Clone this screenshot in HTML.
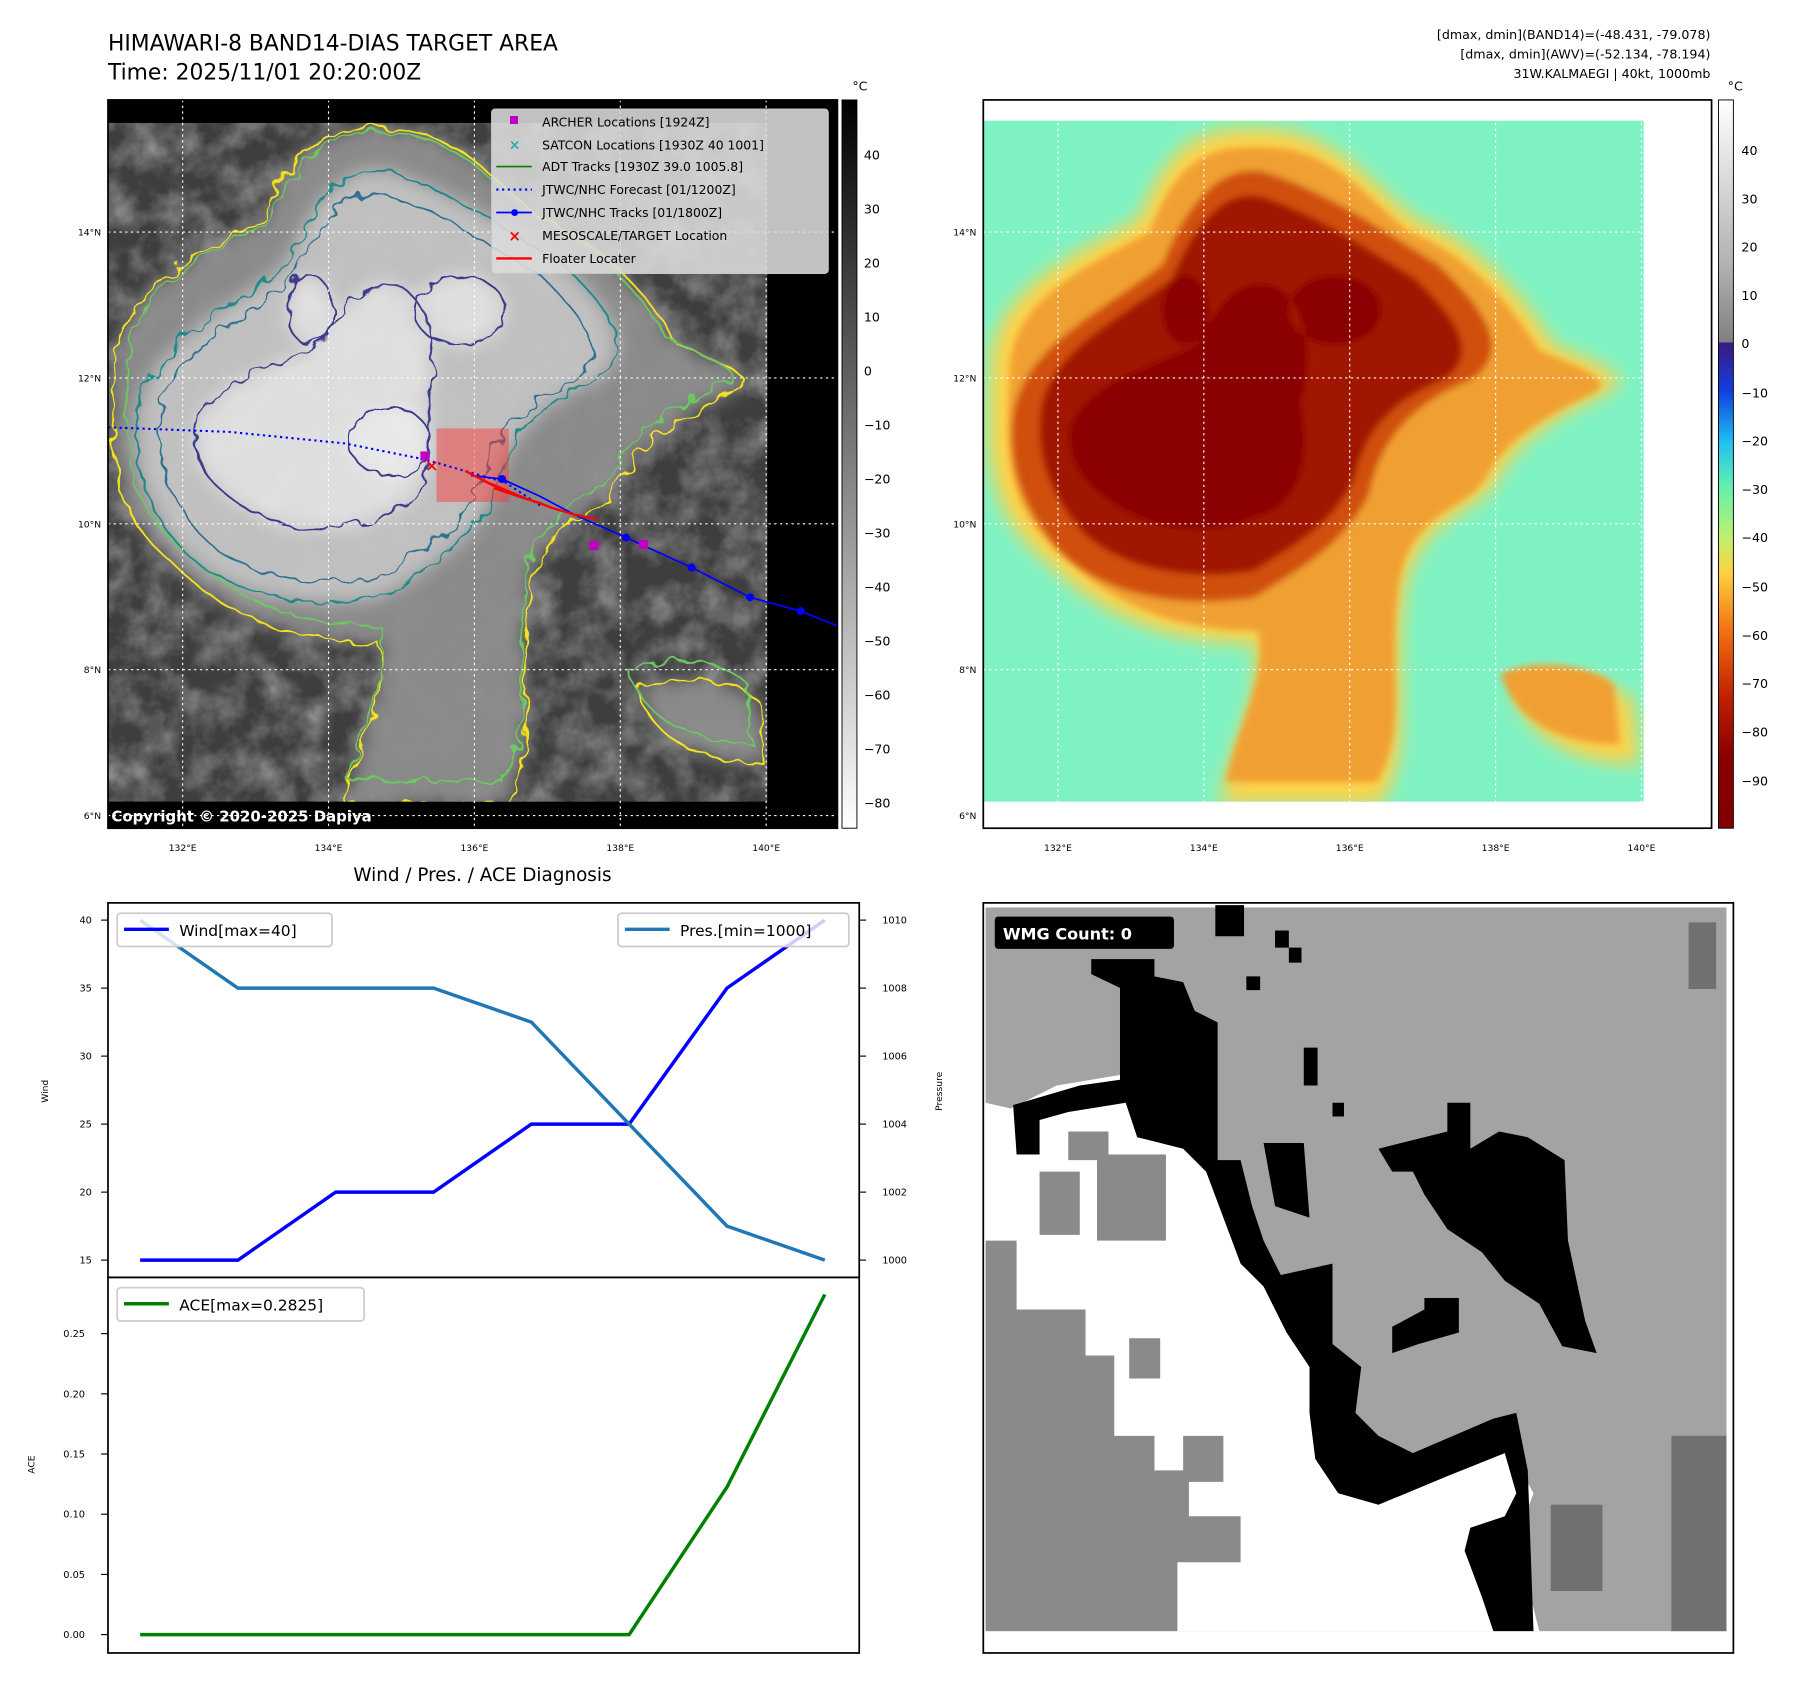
<!DOCTYPE html>
<html><head><meta charset="utf-8"><style>
html,body{margin:0;padding:0;background:#fff;}
svg{display:block;font-family:"DejaVu Sans","Liberation Sans",sans-serif;}
</style></head><body>
<svg id="fig" xmlns="http://www.w3.org/2000/svg" width="1801" height="1690" viewBox="0 0 1801 1690">
<defs>
<filter id="wig" x="-5%" y="-5%" width="110%" height="110%"><feTurbulence type="fractalNoise" baseFrequency="0.06" numOctaves="2" seed="3"/><feDisplacementMap in="SourceGraphic" scale="14"/></filter>
<filter id="blur3"><feGaussianBlur stdDeviation="3"/></filter>
<filter id="blur8"><feGaussianBlur stdDeviation="8"/></filter>
<filter id="noise" x="0" y="0" width="100%" height="100%"><feTurbulence type="fractalNoise" baseFrequency="0.035" numOctaves="4" seed="7"/><feColorMatrix type="matrix" values="0 0 0 0 1  0 0 0 0 1  0 0 0 0 1  0 0 0 1.6 -0.55"/></filter>
<linearGradient id="cb1" x1="0" y1="0" x2="0" y2="1"><stop offset="0" stop-color="#000"/><stop offset="1" stop-color="#fff"/></linearGradient>
<linearGradient id="cb2" x1="0" y1="0" x2="0" y2="1">
<stop offset="0" stop-color="#ffffff"/><stop offset="0.23" stop-color="#b0b0b0"/><stop offset="0.332" stop-color="#808080"/>
<stop offset="0.334" stop-color="#3a1a80"/><stop offset="0.4" stop-color="#1040e0"/><stop offset="0.47" stop-color="#20c0f0"/>
<stop offset="0.53" stop-color="#60f0b0"/><stop offset="0.6" stop-color="#c0f070"/><stop offset="0.65" stop-color="#ffd040"/>
<stop offset="0.73" stop-color="#f07010"/><stop offset="0.82" stop-color="#c02000"/><stop offset="0.9" stop-color="#8b0000"/><stop offset="1" stop-color="#800000"/></linearGradient>
<clipPath id="c1"><rect x="94" y="107" width="574" height="591"/></clipPath>
<clipPath id="c2"><rect x="856" y="105" width="575" height="593"/></clipPath>
<path id="L1" d="M100,330 C95,250 180,220 230,190 C250,140 270,110 330,112 C400,110 430,160 470,190 C520,210 560,250 590,300 C640,320 660,330 640,340 C600,360 560,380 540,420 C520,450 470,450 460,520 C450,600 470,650 440,700 L300,700 C310,650 340,600 330,560 C260,560 200,540 150,490 C100,450 95,400 100,330 Z M555,600 C580,585 640,590 660,610 L665,665 C620,665 570,650 555,600 Z"/>
<path id="L2" d="M120,360 C130,300 200,270 250,230 C270,180 300,140 340,150 C400,170 440,200 490,230 C520,260 560,300 520,330 C470,350 440,380 430,430 C410,470 380,490 330,520 C270,530 200,520 160,480 C125,440 115,400 120,360 Z"/>
<path id="L3" d="M170,370 C190,330 240,320 280,300 C300,260 320,240 350,250 C380,270 380,320 370,350 C380,400 370,440 330,450 C290,470 240,460 210,440 C180,420 165,400 170,370 Z M360,270 a40,30 0 1,0 80,0 a40,30 0 1,0 -80,0 Z M250,270 a20,30 0 1,0 40,0 a20,30 0 1,0 -40,0 Z"/>
<path id="L4" d="M305,385 a35,30 0 1,0 70,0 a35,30 0 1,0 -70,0 Z"/>
</defs>
<g transform="scale(1.1487)">
<text x="94" y="44" font-size="19">HIMAWARI-8 BAND14-DIAS TARGET AREA</text>
<text x="94" y="69" font-size="19">Time: 2025/11/01 20:20:00Z</text>
<g font-size="11" text-anchor="end">
<text x="1489" y="34">[dmax, dmin](BAND14)=(-48.431, -79.078)</text>
<text x="1489" y="51">[dmax, dmin](AWV)=(-52.134, -78.194)</text>
<text x="1489" y="68">31W.KALMAEGI | 40kt, 1000mb</text>
</g>

<!-- MAP 1 -->
<g>
<rect x="94" y="87" width="635" height="634" fill="#000"/>
<g clip-path="url(#c1)">
<rect x="94" y="107" width="574" height="591" fill="#3e3e3e"/>
<rect x="94" y="107" width="574" height="591" filter="url(#noise)" opacity="0.45"/>
<g filter="url(#blur8)" opacity="0.95">
<use href="#L1" fill="#8e8e8e"/><use href="#L2" fill="#c6c6c6"/><use href="#L3" fill="#e6e6e6"/><use href="#L4" fill="#f2f2f2"/>
</g>
<g filter="url(#wig)" fill="none" stroke-width="1.6">
<use href="#L1" stroke="#f5e31a"/>
<use href="#L1" stroke="#6cc860" transform="translate(381,200) scale(0.96) translate(-381,-200)"/>
<use href="#L2" stroke="#1f8a8a"/>
<use href="#L2" stroke="#2e6e8e" transform="translate(320,350) scale(0.9) translate(-320,-350)"/>
<use href="#L3" stroke="#3b3a8c"/>
<use href="#L4" stroke="#3b3a8c"/>
</g>
</g>
<rect x="94" y="698" width="272" height="23" fill="#000"/>
<text x="97" y="715" font-size="13" font-weight="bold" fill="#fff">Copyright © 2020-2025 Dapiya</text>
<g stroke="#fff" stroke-dasharray="2,3" stroke-width="1">
<line x1="159" y1="87" x2="159" y2="721"/><line x1="286" y1="87" x2="286" y2="721"/><line x1="413" y1="87" x2="413" y2="721"/><line x1="540" y1="87" x2="540" y2="721"/><line x1="667" y1="87" x2="667" y2="721"/>
<line x1="94" y1="202" x2="729" y2="202"/><line x1="94" y1="329" x2="729" y2="329"/><line x1="94" y1="456" x2="729" y2="456"/><line x1="94" y1="583" x2="729" y2="583"/><line x1="94" y1="710" x2="729" y2="710"/>
</g>
<rect x="380" y="373" width="63" height="64" fill="#ff3030" opacity="0.45"/>
<polyline points="94,372 200,376 300,386 370,400 440,420 470,440" fill="none" stroke="#0000ff" stroke-width="1.8" stroke-dasharray="2,3"/>
<polyline points="410,414 437,417 470,432 500,448 545,468 602,494 653,520 697,532 729,545" fill="none" stroke="#0000ff" stroke-width="1.5"/>
<g fill="#0000ff"><circle cx="437" cy="417" r="3.5"/><circle cx="545" cy="468" r="3.5"/><circle cx="602" cy="494" r="3.5"/><circle cx="653" cy="520" r="3.5"/><circle cx="697" cy="532" r="3.5"/></g>
<polyline points="405,410 440,428 420,418 460,435 430,425 470,438 480,442 500,448 520,452" fill="none" stroke="#ff0000" stroke-width="2"/>
<g fill="#c000c0"><rect x="366" y="393" width="8" height="8"/><rect x="513" y="471" width="8" height="8"/><rect x="556" y="470" width="8" height="8"/></g>
<text x="376" y="410" font-size="14" fill="#ff0000" text-anchor="middle" font-weight="bold">×</text>
<rect x="94" y="87" width="635" height="634" fill="none" stroke="#000" stroke-width="1.5"/>
<g>
<rect x="428" y="95" width="293" height="143" rx="3" fill="#dcdcdc" fill-opacity="0.88" stroke="#c8c8c8"/>
<g font-size="10.8">
<rect x="444" y="101" width="7" height="7" fill="#c000c0"/><text x="472" y="110">ARCHER Locations [1924Z]</text>
<text x="448" y="130" fill="#20b0b0" font-size="12" font-weight="bold" text-anchor="middle">×</text><text x="472" y="130">SATCON Locations [1930Z 40 1001]</text>
<line x1="432" y1="145" x2="463" y2="145" stroke="#008000" stroke-width="1.5"/><text x="472" y="149">ADT Tracks [1930Z 39.0 1005.8]</text>
<line x1="432" y1="165" x2="463" y2="165" stroke="#0000ff" stroke-width="1.8" stroke-dasharray="2,3"/><text x="472" y="169">JTWC/NHC Forecast [01/1200Z]</text>
<line x1="432" y1="185" x2="463" y2="185" stroke="#0000ff" stroke-width="1.5"/><circle cx="448" cy="185" r="3" fill="#0000ff"/><text x="472" y="189">JTWC/NHC Tracks [01/1800Z]</text>
<text x="448" y="210" fill="#ff0000" font-size="13" font-weight="bold" text-anchor="middle">×</text><text x="472" y="209">MESOSCALE/TARGET Location</text>
<line x1="432" y1="225" x2="463" y2="225" stroke="#ff0000" stroke-width="2"/><text x="472" y="229">Floater Locater</text>
</g></g>
<g font-size="8">
<text x="159" y="741" text-anchor="middle">132°E</text><text x="286" y="741" text-anchor="middle">134°E</text><text x="413" y="741" text-anchor="middle">136°E</text><text x="540" y="741" text-anchor="middle">138°E</text><text x="667" y="741" text-anchor="middle">140°E</text>
<text x="88" y="205" text-anchor="end">14°N</text><text x="88" y="332" text-anchor="end">12°N</text><text x="88" y="459" text-anchor="end">10°N</text><text x="88" y="586" text-anchor="end">8°N</text><text x="88" y="713" text-anchor="end">6°N</text>
</g>
</g>
<g>
<rect x="733" y="87" width="13" height="634" fill="url(#cb1)" stroke="#000" stroke-width="0.8"/>
<text x="742" y="79" font-size="11">°C</text>
<g font-size="11"><text x="752" y="139">40</text><text x="752" y="186">30</text><text x="752" y="233">20</text><text x="752" y="280">10</text><text x="752" y="327">0</text><text x="752" y="374">−10</text><text x="752" y="421">−20</text><text x="752" y="468">−30</text><text x="752" y="515">−40</text><text x="752" y="562">−50</text><text x="752" y="609">−60</text><text x="752" y="656">−70</text><text x="752" y="703">−80</text></g>
</g>

<!-- MAP 2 -->
<g>
<rect x="856" y="87" width="634" height="634" fill="#fff"/>
<g clip-path="url(#c2)">
<rect x="856" y="105" width="575" height="593" fill="#7ff2c4"/>
<g transform="translate(762,0)">
<g filter="url(#blur8)"><use href="#L1" fill="#ffd24a"/></g>
<g filter="url(#blur3)"><use href="#L1" fill="#f0a030" transform="translate(381,380) scale(0.94) translate(-381,-380)"/><use href="#L2" fill="#d05010"/><use href="#L2" fill="#a01800" transform="translate(320,330) scale(0.88) translate(-320,-330)"/><use href="#L3" fill="#8b0000"/></g>
</g>
</g>
<g stroke="#fff" stroke-dasharray="2,3" stroke-width="1">
<line x1="921" y1="87" x2="921" y2="721"/><line x1="1048" y1="87" x2="1048" y2="721"/><line x1="1175" y1="87" x2="1175" y2="721"/><line x1="1302" y1="87" x2="1302" y2="721"/><line x1="1429" y1="87" x2="1429" y2="721"/>
<line x1="856" y1="202" x2="1490" y2="202"/><line x1="856" y1="329" x2="1490" y2="329"/><line x1="856" y1="456" x2="1490" y2="456"/><line x1="856" y1="583" x2="1490" y2="583"/><line x1="856" y1="710" x2="1490" y2="710"/>
</g>
<rect x="856" y="87" width="634" height="634" fill="none" stroke="#000" stroke-width="1.5"/>
<g font-size="8">
<text x="921" y="741" text-anchor="middle">132°E</text><text x="1048" y="741" text-anchor="middle">134°E</text><text x="1175" y="741" text-anchor="middle">136°E</text><text x="1302" y="741" text-anchor="middle">138°E</text><text x="1429" y="741" text-anchor="middle">140°E</text>
<text x="850" y="205" text-anchor="end">14°N</text><text x="850" y="332" text-anchor="end">12°N</text><text x="850" y="459" text-anchor="end">10°N</text><text x="850" y="586" text-anchor="end">8°N</text><text x="850" y="713" text-anchor="end">6°N</text>
</g>
</g>
<g>
<rect x="1496" y="87" width="13" height="634" fill="url(#cb2)" stroke="#000" stroke-width="0.8"/>
<text x="1504" y="79" font-size="11">°C</text>
<g font-size="11"><text x="1516" y="135">40</text><text x="1516" y="177">30</text><text x="1516" y="219">20</text><text x="1516" y="261">10</text><text x="1516" y="303">0</text><text x="1516" y="346">−10</text><text x="1516" y="388">−20</text><text x="1516" y="430">−30</text><text x="1516" y="472">−40</text><text x="1516" y="515">−50</text><text x="1516" y="557">−60</text><text x="1516" y="599">−70</text><text x="1516" y="641">−80</text><text x="1516" y="684">−90</text></g>
</g>

<!-- WIND CHART -->
<text x="420" y="767" font-size="16" text-anchor="middle">Wind / Pres. / ACE Diagnosis</text>
<g id="chart"></g>

<!-- WMG -->
<g>
<rect x="858" y="790" width="635" height="630" fill="#a3a3a3"/>
<rect x="1493" y="790" width="10" height="630" fill="#a3a3a3"/>
<rect x="1470" y="803" width="24" height="58" fill="#707070"/>
<rect x="1455" y="1250" width="48" height="170" fill="#707070"/>
<path d="M858,1080 L858,960 L880,965 L920,945 L980,935 L1040,995 L1080,1060 L1110,1120 L1150,1165 L1170,1230 L1200,1275 L1250,1285 L1310,1255 L1335,1300 L1320,1340 L1340,1420 L858,1420 Z" fill="#fff"/>
<path d="M858,1080 L885,1080 L885,1140 L945,1140 L945,1180 L970,1180 L970,1250 L1005,1250 L1005,1280 L1035,1280 L1035,1320 L1080,1320 L1080,1360 L1025,1360 L1025,1420 L858,1420 Z" fill="#8a8a8a"/>
<path d="M955,1005 L1015,1005 L1015,1080 L955,1080 Z M905,1020 L940,1020 L940,1075 L905,1075 Z M930,985 L965,985 L965,1010 L930,1010 Z M983,1165 L1010,1165 L1010,1200 L983,1200 Z M1030,1250 L1065,1250 L1065,1290 L1030,1290 Z" fill="#8a8a8a"/>
<path d="M1350,1310 L1395,1310 L1395,1385 L1350,1385 Z" fill="#707070"/>
<path d="M950,835 L1005,835 L1005,850 L1030,855 L1040,880 L1060,890 L1060,1010 L1080,1010 L1090,1050 L1100,1080 L1115,1110 L1160,1100 L1160,1170 L1185,1190 L1180,1230 L1200,1250 L1230,1265 L1265,1250 L1300,1235 L1320,1230 L1330,1280 L1335,1420 L1300,1420 L1290,1390 L1275,1350 L1280,1330 L1310,1320 L1320,1300 L1310,1265 L1260,1285 L1200,1310 L1165,1300 L1145,1270 L1140,1230 L1140,1190 L1120,1160 L1100,1120 L1080,1100 L1065,1060 L1050,1020 L1030,1000 L990,990 L980,960 L930,968 L905,975 L905,1005 L885,1005 L882,962 L940,945 L975,940 L975,860 L950,848 Z" fill="#000"/>
<path d="M1200,1000 L1260,985 L1260,960 L1280,960 L1280,1000 L1305,985 L1330,990 L1362,1010 L1365,1080 L1380,1150 L1390,1178 L1360,1172 L1340,1135 L1310,1115 L1290,1090 L1260,1070 L1240,1040 L1230,1020 L1212,1020 Z M1100,995 L1135,995 L1140,1060 L1110,1050 Z M1212,1155 L1240,1140 L1240,1130 L1270,1130 L1270,1160 L1235,1170 L1212,1178 Z M1058,788 L1083,788 L1083,815 L1058,815 Z M1085,850 L1097,850 L1097,862 L1085,862 Z M1110,810 L1122,810 L1122,825 L1110,825 Z M1122,825 L1133,825 L1133,838 L1122,838 Z M1135,912 L1147,912 L1147,945 L1135,945 Z M1160,960 L1170,960 L1170,972 L1160,972 Z" fill="#000"/>
<rect x="856" y="786" width="653" height="653" fill="none" stroke="#000" stroke-width="1.5"/>
<rect x="866" y="798" width="156" height="28" rx="3" fill="#000"/>
<text x="873" y="818" font-size="14" font-weight="bold" fill="#fff">WMG Count: 0</text>
</g>
</g>
</svg>
<script>
const timeIndex = [0,1,2,3,4,5,6,7];
const windValues = [15,15,20,20,25,25,35,40];
const presValues = [1010,1008,1008,1008,1007,1004,1001,1000];
const aceValues = [0,0,0,0,0,0,0.1225,0.2825];
const windTicks = [15,20,25,30,35,40];
const presTicks = [1000,1002,1004,1006,1008,1010];
const aceTicks = ["0.00","0.05","0.10","0.15","0.20","0.25"];

const NS = "http://www.w3.org/2000/svg";
const g = document.getElementById('chart');
const X = i => 122 + i * (596 / 7);
const yW = v => 1097 - (v - 15) * (296 / 25);
const yP = p => 1097 - (p - 1000) * 29.6;
const yA = a => 1423 - a * 1048;
function mk(tag, attrs, text){ const e=document.createElementNS(NS,tag); for(const k in attrs) e.setAttribute(k,attrs[k]); if(text!==undefined) e.textContent=text; g.appendChild(e); return e; }

const ax1 = mk('rect',{x:94,y:786,width:654,height:326,fill:'none',stroke:'#000','stroke-width':1.5});


const ax2 = mk('rect',{x:94,y:1112,width:654,height:327,fill:'none',stroke:'#000','stroke-width':1.5});



windTicks.forEach(v=>{ const y=yW(v); mk('line',{x1:88,y1:y,x2:94,y2:y,stroke:'#000'});
 const t=mk('text',{x:80,y:y+3,'font-size':8.5,'text-anchor':'end'},String(v));
 
  });
presTicks.forEach(v=>{ const y=yP(v); mk('line',{x1:748,y1:y,x2:754,y2:y,stroke:'#000'});
 const t=mk('text',{x:768,y:y+3,'font-size':8.5},String(v));
 
  });
aceTicks.forEach(s=>{ const y=yA(parseFloat(s)); mk('line',{x1:88,y1:y,x2:94,y2:y,stroke:'#000'});
 const t=mk('text',{x:74,y:y+3,'font-size':8.5,'text-anchor':'end'},s);
 
  });

let a=mk('text',{x:0,y:0,'font-size':8,'text-anchor':'middle',transform:'translate(42,950) rotate(-90)'},'Wind');


a=mk('text',{x:0,y:0,'font-size':8,'text-anchor':'middle',transform:'translate(820,950) rotate(-90)'},'Pressure');


a=mk('text',{x:0,y:0,'font-size':8,'text-anchor':'middle',transform:'translate(30,1275) rotate(-90)'},'ACE');



const wl = mk('polyline',{points:timeIndex.map(i=>X(i)+','+yW(windValues[i])).join(' '),fill:'none',stroke:'#0000ff','stroke-width':3});


const pl = mk('polyline',{points:timeIndex.map(i=>X(i)+','+yP(presValues[i])).join(' '),fill:'none',stroke:'#1f77b4','stroke-width':3});


const al = mk('polyline',{points:timeIndex.map(i=>X(i)+','+yA(aceValues[i])).join(' '),fill:'none',stroke:'#008000','stroke-width':3});



function legend(x,y,w,color,label,name){
 const r=mk('rect',{x:x,y:y,width:w,height:29,rx:3,fill:'#fff','fill-opacity':0.8,stroke:'#ccc','stroke-width':1.5});
 
 
 mk('line',{x1:x+6,y1:y+14,x2:x+45,y2:y+14,stroke:color,'stroke-width':3});
 mk('text',{x:x+54,y:y+20,'font-size':13.5},label);
}
legend(102,795,187,'#0000ff','Wind[max=40]','wind-legend');
legend(538,795,201,'#1f77b4','Pres.[min=1000]','pres-legend');
legend(102,1121,215,'#008000','ACE[max=0.2825]','ace-legend');
</script>
</body></html>
